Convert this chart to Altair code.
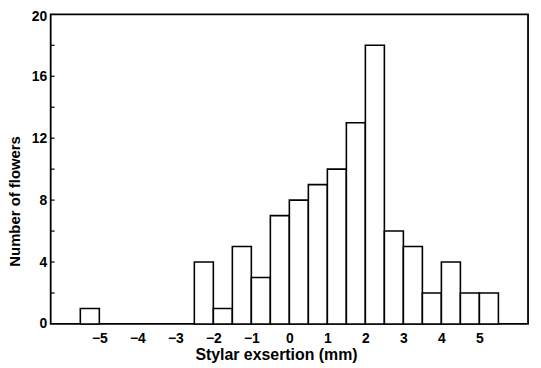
import altair as alt
import pandas as pd

bin_start = [-5.5, -2.5, -2.0, -1.5, -1.0, -0.5, 0.0, 0.5, 1.0, 1.5, 2.0, 2.5, 3.0, 3.5, 4.0, 4.5, 5.0]
bin_end = [-5.0, -2.0, -1.5, -1.0, -0.5, 0.0, 0.5, 1.0, 1.5, 2.0, 2.5, 3.0, 3.5, 4.0, 4.5, 5.0, 5.5]
counts = [1, 4, 1, 5, 3, 7, 8, 9, 10, 13, 18, 6, 5, 2, 4, 2, 2]
x_labels = [-5, -4, -3, -2, -1, 0, 1, 2, 3, 4, 5]
y_labels = [0, 4, 8, 12, 16, 20]
y_ticks = [2, 4, 6, 8, 10, 12, 14, 16, 18]

bars_df = pd.DataFrame({"start": bin_start, "end": bin_end, "count": counts})
ticks_df = pd.DataFrame({"count": y_ticks})

FONT = "Liberation Sans"

x_scale = alt.Scale(domain=[-6.28, 6.28], nice=False, zero=False)
y_scale = alt.Scale(domain=[0, 20], nice=False)

y_axis = alt.Axis(
    values=y_labels, title="Number of flowers", tickSize=0, labelPadding=4,
    domain=False, grid=False, titleX=-36, titleY=188, titleAlign="center",
    titleBaseline="middle", titleAngle=-90, labelFontSize=14, titleFontSize=15,
    labelOffset={"condition": {"test": "datum.value == 20", "value": 2}, "value": 0},
)
x_axis = alt.Axis(
    values=x_labels, format="d", title="Stylar exsertion (mm)", tickSize=0,
    labelPadding=8, domain=False, grid=False, titleX=227, titleY=31,
    titleBaseline="middle", titleAlign="center", labelFontSize=14, titleFontSize=16,
)

bars = alt.Chart(bars_df).mark_rect(
    fill="white", stroke="black", strokeWidth=1.6
).encode(
    x=alt.X("start:Q", scale=x_scale, axis=x_axis),
    x2="end:Q",
    y=alt.Y("count:Q", scale=y_scale, axis=y_axis),
    y2=alt.datum(0),
)

ticks = alt.Chart(ticks_df).mark_rule(color="black", strokeWidth=1.2).encode(
    y=alt.Y("count:Q", scale=y_scale, axis=y_axis),
    x=alt.value(0),
    x2=alt.value(4),
)

chart = alt.layer(bars, ticks).properties(
    width=481, height=312,
    background="white",
    autosize=alt.AutoSizeParams(type="none"),
    padding={"left": 43, "top": 5, "right": 5, "bottom": 43},
).configure_view(
    stroke="black", strokeWidth=1.8
).configure_axis(
    labelFont=FONT, titleFont=FONT,
    labelFontWeight="bold", titleFontWeight="bold",
    labelColor="black", titleColor="black",
)

chart.save("out.html", embed_options={"renderer": "svg", "actions": False})
